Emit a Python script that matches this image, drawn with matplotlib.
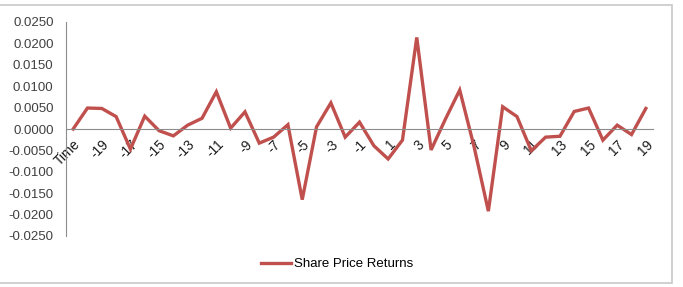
import matplotlib
matplotlib.use('Agg')
import matplotlib.pyplot as plt
from matplotlib.patches import Rectangle
import numpy as np

plt.rcParams['font.family'] = ['Liberation Sans', 'DejaVu Sans']

# categories: "Time" then event days -20 .. 19
categories = ['Time'] + [str(d) for d in range(-20, 20)]
returns = [
    0.0000,
    0.0049, 0.0048, 0.0029, -0.0047, 0.0030, -0.0004, -0.0016, 0.0009, 0.0025, 0.0087,
    0.0002, 0.0040, -0.0033, -0.0019, 0.0010, -0.0165, 0.0005, 0.0061, -0.0019, 0.0016,
    -0.0039, -0.0070, -0.0026, 0.0214, -0.0049, 0.0023, 0.0091, -0.0041, -0.0192, 0.0052,
    0.0029, -0.0051, -0.0019, -0.0017, 0.0041, 0.0049, -0.0026, 0.0009, -0.0013, 0.0048,
]
y_ticks = [0.025, 0.02, 0.015, 0.01, 0.005, 0.0, -0.005, -0.01, -0.015, -0.02, -0.025]

fig = plt.figure(figsize=(6.83, 2.87), dpi=100)
ax = fig.add_axes([66 / 683, 51 / 287, 587 / 683, 214 / 287])

x = np.arange(len(categories))
line, = ax.plot(x, returns, color='#C0504D', linewidth=2.4, label='Share Price Returns',
                solid_joinstyle='miter')

ax.set_xlim(-0.5, len(categories) - 0.5)
ax.set_ylim(-0.025, 0.025)

ax.spines['top'].set_visible(False)
ax.spines['right'].set_visible(False)
ax.spines['left'].set_color('#8c8c8c')
ax.spines['bottom'].set_color('#8c8c8c')
ax.spines['bottom'].set_position(('data', 0))
ax.tick_params(axis='y', length=0, pad=9)
ax.tick_params(axis='x', length=0, pad=6)

ax.set_yticks(y_ticks)
ax.set_yticklabels([f'{v:.4f}' for v in y_ticks], fontsize=9.5, color='#404040')
ax.set_xticks(x[::2])
ax.set_xticklabels(categories[::2], fontsize=9.8, color='#1a1a1a')
plt.setp(ax.get_xticklabels(), rotation=45, ha='right', rotation_mode='anchor')

fig.legend(handles=[line], loc='center', bbox_to_anchor=(337 / 683, 23 / 287),
           frameon=False, fontsize=9.5, handlelength=2.3, handletextpad=0.2)

# light outer chart border
fig.patches.append(Rectangle((-0.01, 4 / 287), 672 / 683 + 0.01, 278 / 287,
                             transform=fig.transFigure, fill=False,
                             edgecolor='#c8c8c8', linewidth=1.2))

fig.savefig('out.png', dpi=100)
